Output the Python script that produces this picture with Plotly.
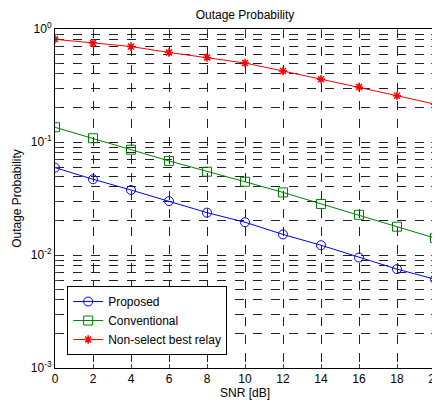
import plotly.graph_objects as go

snr = [0, 2, 4, 6, 8, 10, 12, 14, 16, 18, 20]
proposed = [0.0593, 0.0468, 0.0376, 0.0300, 0.0237, 0.0195, 0.0152, 0.0122, 0.0095, 0.0075, 0.0061]
conventional = [0.135, 0.108, 0.0855, 0.068, 0.0546, 0.0445, 0.0358, 0.0283, 0.0227, 0.0178, 0.0141]
non_select = [0.81, 0.75, 0.70, 0.62, 0.56, 0.50, 0.425, 0.36, 0.307, 0.257, 0.216]

x_ticks = [0, 2, 4, 6, 8, 10, 12, 14, 16, 18, 20]
decades = [-3, -2, -1, 0]

yvals, ytext = [], []
for d in decades:
    for m in range(1, 10):
        if d == 0 and m > 1:
            break
        yvals.append(m * 10.0 ** d)
        ytext.append(f"10<sup>{d}</sup>" if m == 1 else "")

fig = go.Figure()
fig.add_trace(go.Scatter(x=snr, y=proposed, name="Proposed", mode="lines+markers",
                         line=dict(color="#0000ff", width=1),
                         marker=dict(symbol="circle-open", size=9, color="#0000ff", line=dict(width=1))))
fig.add_trace(go.Scatter(x=snr, y=conventional, name="Conventional", mode="lines+markers",
                         line=dict(color="#008000", width=1),
                         marker=dict(symbol="square-open", size=9, color="#008000", line=dict(width=1))))
fig.add_trace(go.Scatter(x=snr, y=non_select, name="Non-select best relay", mode="lines+markers",
                         line=dict(color="#ff0000", width=1),
                         marker=dict(symbol="asterisk-open", size=7, color="#ff0000", line=dict(width=1.5, color="#ff0000"))))

# page body has an 8px margin, so the figure is 8px smaller and offset
fig.update_layout(
    width=432, height=395,
    margin=dict(l=47, r=5, t=21, b=35),
    paper_bgcolor="white", plot_bgcolor="white",
    font=dict(family="Liberation Sans, Arial", size=12, color="black"),
    title=dict(text="Outage Probability", x=0.5, xref="paper", xanchor="center",
               y=0.984, yanchor="middle", font=dict(size=12)),
    showlegend=True,
    legend=dict(x=0.032, y=0.14, xanchor="left", yanchor="middle",
                bordercolor="black", borderwidth=1, bgcolor="white",
                font=dict(size=12), tracegroupgap=0, itemwidth=30),
)
fig.update_xaxes(range=[0, 20], tickvals=x_ticks, ticks="inside", ticklen=4,
                 showline=True, linecolor="black", linewidth=1, mirror="ticks",
                 showgrid=True, gridcolor="#222222", griddash="dash", gridwidth=1,
                 zeroline=False, automargin=False, tickfont=dict(size=12),
                 ticklabeloverflow="allow",
                 title=dict(text="SNR [dB]", standoff=2, font=dict(size=12)))
fig.update_yaxes(type="log", range=[-3, 0], tickvals=yvals, ticktext=ytext,
                 ticks="inside", ticklen=4,
                 showline=True, linecolor="black", linewidth=1, mirror="ticks",
                 showgrid=True, gridcolor="#222222", griddash="dash", gridwidth=1,
                 zeroline=False, automargin=False, tickfont=dict(size=12),
                 title=dict(text="Outage Probability", standoff=6, font=dict(size=12)))

fig.write_html("out.html")
